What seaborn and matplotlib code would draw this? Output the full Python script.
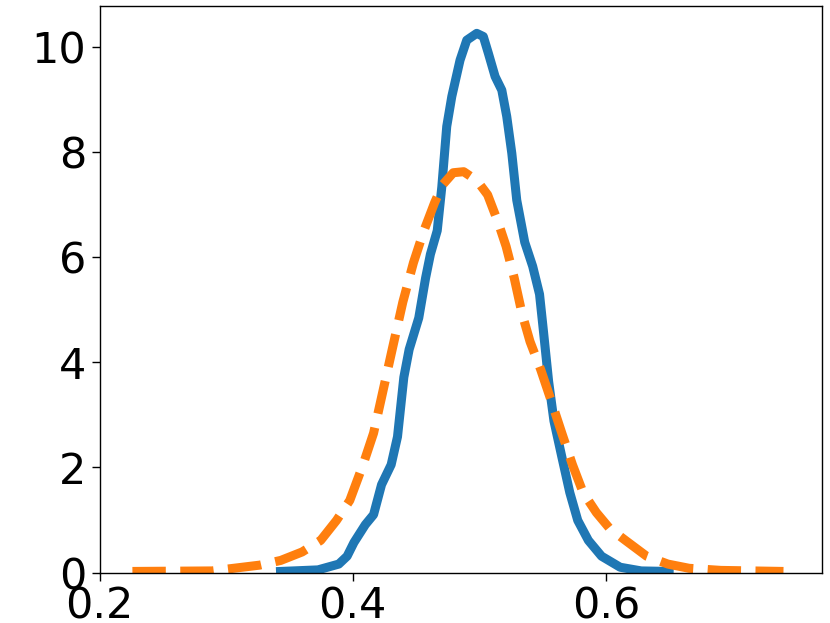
#!/usr/bin/env python3

# Two density curves: a narrow solid one and a wider dashed one.
import matplotlib

matplotlib.use("Agg")
import matplotlib.pyplot as plt
import pandas
import seaborn as sns

# Narrow curve (solid, blue)
narrow_x = [0.343, 0.3726, 0.389, 0.3956, 0.401, 0.410, 0.4165, 0.4228, 0.4304,
            0.4354, 0.4404, 0.4446, 0.4522, 0.4576, 0.4614, 0.4668, 0.4704, 0.4743,
            0.4783, 0.4848, 0.4901, 0.4980, 0.5032, 0.5072, 0.5125, 0.5178, 0.5217,
            0.5257, 0.5296, 0.5359, 0.5422, 0.5476, 0.5506, 0.5548, 0.5590, 0.5652,
            0.5715, 0.5778, 0.5862, 0.5966, 0.6113, 0.628, 0.650]
narrow_y = [0.02, 0.05, 0.16, 0.31, 0.57, 0.91, 1.10, 1.67, 2.05,
            2.58, 3.71, 4.24, 4.84, 5.60, 6.05, 6.50, 7.33, 8.48,
            9.05, 9.74, 10.12, 10.25, 10.19, 9.87, 9.43, 9.17, 8.67,
            7.97, 7.08, 6.28, 5.82, 5.29, 4.61, 3.63, 2.88, 2.20,
            1.52, 0.99, 0.61, 0.31, 0.10, 0.03, 0.02]

# Wide curve (dashed, orange)
wide_x = [0.226, 0.2888, 0.3265, 0.3432, 0.360, 0.3747, 0.3872, 0.3977, 0.4082,
          0.4165, 0.4228, 0.4312, 0.4396, 0.4480, 0.4563, 0.4647, 0.471, 0.4794,
          0.4877, 0.4982, 0.5066, 0.515, 0.5212, 0.5276, 0.5338, 0.5401, 0.5485,
          0.5569, 0.5652, 0.5736, 0.582, 0.5925, 0.6029, 0.6155, 0.6322, 0.649,
          0.6658, 0.6909, 0.7403]
wide_y = [0.02, 0.03, 0.14, 0.23, 0.39, 0.61, 0.99, 1.37, 2.05,
          2.65, 3.33, 4.24, 5.14, 5.89, 6.50, 7.03, 7.37, 7.60,
          7.62, 7.45, 7.18, 6.65, 6.20, 5.60, 4.92, 4.39, 3.86,
          3.26, 2.65, 2.05, 1.52, 1.14, 0.84, 0.61, 0.31, 0.16,
          0.08, 0.04, 0.02]

x_ticks = [0.2, 0.4, 0.6]
y_ticks = [0, 2, 4, 6, 8, 10]


def main():
    narrow = pandas.DataFrame({"x": narrow_x, "density": narrow_y})
    wide = pandas.DataFrame({"x": wide_x, "density": wide_y})

    fig = plt.figure(figsize=(8.3, 6.23), dpi=100)
    ax = fig.add_axes([99.5 / 830, 50.5 / 623, 722.2 / 830, 566.5 / 623])

    sns.lineplot(data=narrow, x="x", y="density", ax=ax, color="#1f77b4",
                 linewidth=6.5, estimator=None)
    sns.lineplot(data=wide, x="x", y="density", ax=ax, color="#ff7f0e",
                 linewidth=6.5, linestyle="--", estimator=None)

    ax.set_xlim(0.2, 0.7705)
    ax.set_ylim(0, 10.77)
    ax.set_xticks(x_ticks)
    ax.set_yticks(y_ticks)
    ax.set_xlabel("")
    ax.set_ylabel("")
    ax.tick_params(labelsize=31, length=6, width=1.0)
    for spine in ax.spines.values():
        spine.set_linewidth(1.0)

    plt.savefig("out.png", dpi=100)
    plt.close()


if __name__ == "__main__":
    main()
